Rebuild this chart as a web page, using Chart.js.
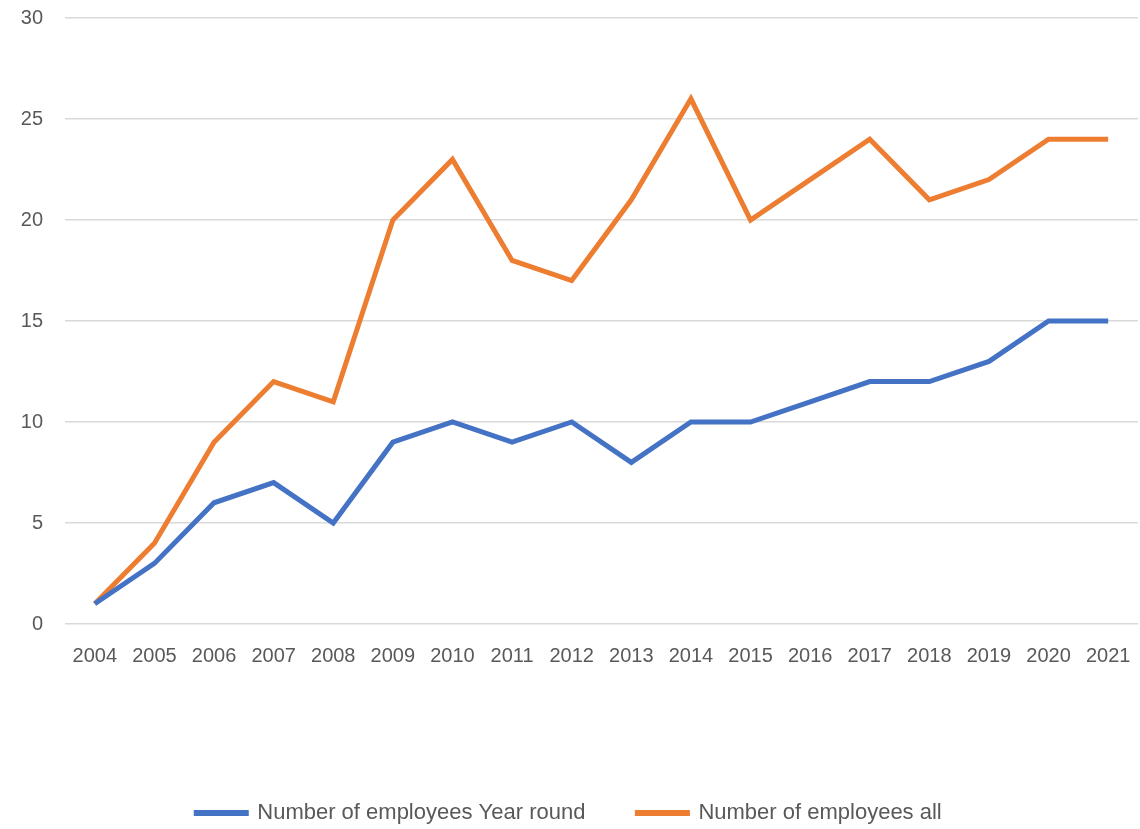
<!DOCTYPE html>
<html>
<head>
<meta charset="utf-8">
<script src="https://cdn.jsdelivr.net/npm/chart.js@4"></script>
<style>
  html, body { margin: 0; padding: 0; background: #fff; }
  #wrap { width: 1140px; height: 829px; overflow: hidden; }
</style>
</head>
<body>
<div id="wrap"><canvas id="chart" width="1140" height="829"></canvas></div>
<script>
  // data
  var years = ['2004', '2005', '2006', '2007', '2008', '2009', '2010', '2011', '2012',
               '2013', '2014', '2015', '2016', '2017', '2018', '2019', '2020', '2021'];
  var yearRound = [1, 3, 6, 7, 5, 9, 10, 9, 10, 8, 10, 10, 11, 12, 12, 13, 15, 15];
  var allStaff = [1, 4, 9, 12, 11, 20, 23, 18, 17, 21, 26, 20, 22, 24, 21, 22, 24, 24];

  var textColor = '#595959';
  var font = { family: '"Liberation Sans", sans-serif', size: 20 };
  var legendFont = { family: '"Liberation Sans", sans-serif', size: 22 };
  var legendGap = 52;

  // legend padding doubles as item gap, so move the legend box down after layout
  var legendShift = {
    id: 'legendShift',
    afterLayout: function(chart) {
      var lg = chart.legend;
      var top = 813 - legendGap - legendFont.size / 2;
      lg.bottom = top + lg.height;
      lg.top = top;
    }
  };

  var ctx = document.getElementById('chart').getContext('2d');
  new Chart(ctx, {
    type: 'line',
    data: {
      labels: years,
      datasets: [
        { label: 'Number of employees Year round', data: yearRound, borderColor: '#4472C4', backgroundColor: '#4472C4', borderWidth: 5, pointRadius: 0, tension: 0 },
        { label: 'Number of employees all', data: allStaff, borderColor: '#ED7D31', backgroundColor: '#ED7D31', borderWidth: 5, pointRadius: 0, tension: 0 }
      ]
    },
    plugins: [legendShift],
    options: {
      responsive: false,
      animation: false,
      layout: { padding: { top: 18, right: 2, left: 0, bottom: 0 } },
      plugins: {
        legend: {
          position: 'bottom',
          labels: { color: textColor, font: legendFont, boxWidth: 50, boxHeight: 1, padding: legendGap }
        },
        tooltip: { enabled: false }
      },
      scales: {
        x: {
          offset: true,
          grid: { display: false },
          border: { display: false },
          ticks: { color: textColor, font: font, padding: 12, maxRotation: 0, autoSkip: false },
          afterFit: function(s) {
            s.paddingLeft = 0; s.paddingRight = 0;
            s.height = s.chart.height - 624 - s.chart.legend.height;
          }
        },
        y: {
          min: 0, max: 30,
          grid: { color: '#D9D9D9', lineWidth: 1.5, drawTicks: false },
          border: { display: false },
          ticks: { stepSize: 5, color: textColor, font: font, padding: 22 },
          afterFit: function(s) { s.width = 65; s.paddingTop = 0; s.paddingBottom = 0; }
        }
      }
    }
  });
</script>
</body>
</html>
